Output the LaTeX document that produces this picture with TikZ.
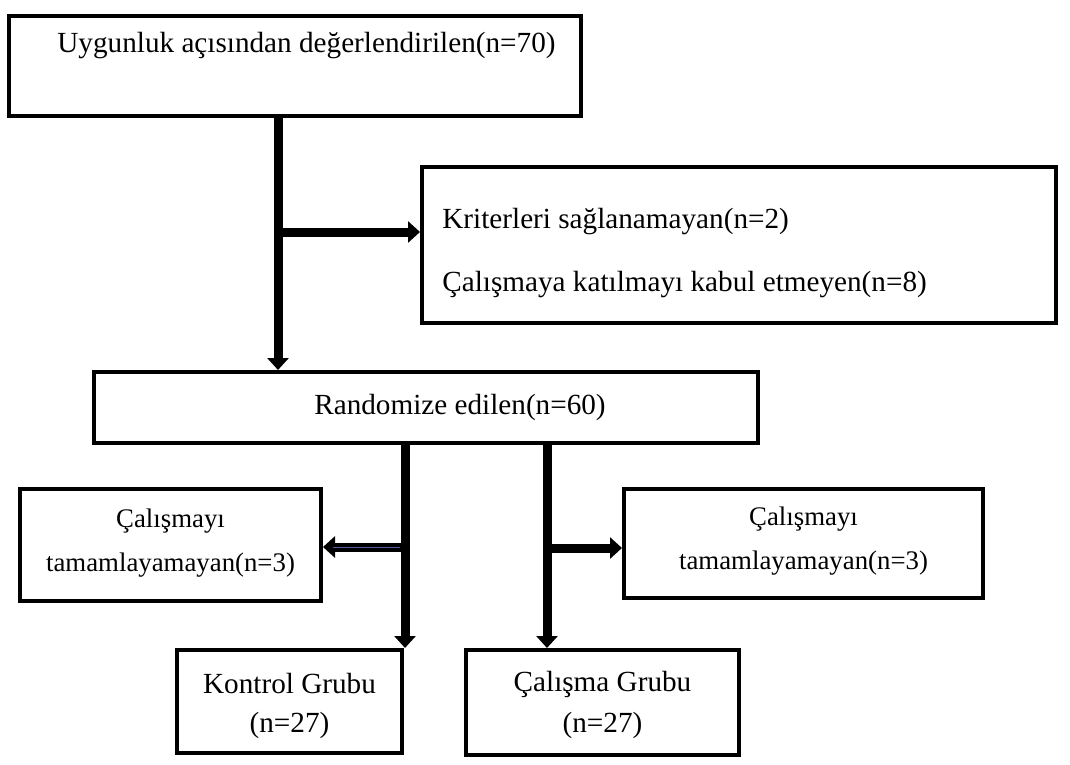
\documentclass[tikz,border=0pt]{standalone}
\usepackage{fontspec}
\setmainfont{Liberation Serif}
\usetikzlibrary{arrows.meta,positioning}

\begin{document}
\begin{tikzpicture}[x=0.5pt,y=-0.5pt,
    box/.style={draw, line width=2pt, rectangle, inner sep=0pt},
    flow/.style={line width=4.5pt, -{Triangle[width=10.5pt,length=6pt]}},
    txt/.style={font=\fontsize{14.6}{16}\selectfont, inner sep=0pt},
    stxt/.style={font=\fontsize{13.4}{15}\selectfont, inner sep=0pt}]
    \useasboundingbox (0,0) rectangle (1070,765);

    % Boxes
    \node[box, minimum width=286pt, minimum height=50pt] (eval) at (294.5,66) {};
    \node[box, minimum width=317pt, minimum height=78pt] (excl) at (739,245) {};
    \node[box, minimum width=332pt, minimum height=35.5pt] (rand) at (426,407.5) {};
    \node[box, minimum width=150.5pt, minimum height=56pt] (dropL) at (170.5,545) {};
    \node[box, minimum width=179.5pt, minimum height=54.5pt] (dropR) at (803.5,543.5) {};
    \node[box, minimum width=112.5pt, minimum height=51.5pt] (ctrl) at (289.5,701.5) {};
    \node[box, minimum width=136.5pt, minimum height=52.5pt] (study) at (602.5,702.5) {};

    % Texts
    \node[txt, anchor=west] (evalT) at (57,46) {Uygunluk açısından değerlendirilen(n=70)};
    \node[txt, anchor=west] (exclA) at (442,222) {Kriterleri sağlanamayan(n=2)};
    \node[txt, anchor=west] (exclB) at (442,285) {Çalışmaya katılmayı kabul etmeyen(n=8)};
    \node[txt] (randT) at (460,407) {Randomize edilen(n=60)};
    \node[stxt] (dropLA) at (170.5,521) {Çalışmayı};
    \node[stxt] (dropLB) at (170.5,565) {tamamlayamayan(n=3)};
    \node[stxt] (dropRA) at (803.5,519) {Çalışmayı};
    \node[stxt] (dropRB) at (803.5,563) {tamamlayamayan(n=3)};
    \node[txt] (ctrlA) at (289.5,684) {Kontrol Grubu};
    \node[txt] (ctrlB) at (289.5,725) {(n=27)};
    \node[txt] (studyA) at (602.5,684) {Çalışma Grubu};
    \node[txt] (studyB) at (602.5,725) {(n=27)};

    % Junctions
    \coordinate (j1) at (278,232);
    \coordinate (j2) at (405,547);
    \coordinate (j3) at (547,548);

    % Connectors
    \draw[flow, -] (j1 |- eval.south) -- (j1);
    \draw[flow] (j1) -- (j1 |- rand.north);
    \draw[flow] (j1) -- (excl.west |- j1);
    \draw[flow, -] (j2 |- rand.south) -- (j2);
    \draw[flow] (j2) -- (j2 |- ctrl.north);
    \draw[flow] (j2) -- (dropL.east |- j2);
    \draw[line width=0.4pt, blue!30!gray] ([xshift=-2.5pt]j2) -- ([xshift=5pt]dropL.east |- j2);
    \draw[flow, -] (j3 |- rand.south) -- (j3);
    \draw[flow] (j3) -- (j3 |- study.north);
    \draw[flow] (j3) -- (dropR.west |- j3);
\end{tikzpicture}
\end{document}
